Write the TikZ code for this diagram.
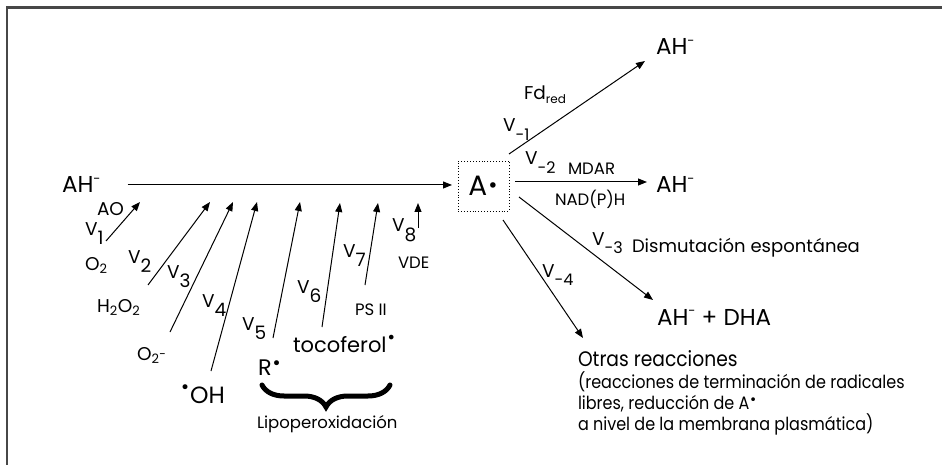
\documentclass[tikz,border=0pt]{standalone}
\usepackage{fontspec}
\setmainfont{Poppins}
\newfontfamily\narrowf[FakeStretch=0.89]{Poppins}
\newfontfamily\symf{DejaVu Sans}
\usetikzlibrary{arrows.meta,decorations.pathreplacing}
\newcommand\Vl[1]{V\raisebox{-0.5em}{#1}}
\newcommand\Vr[1]{V\raisebox{-0.45em}{\fontsize{16}{16}\selectfont #1}}
\newcommand\dotb{{\symf •}}
\newcommand\minus{\raisebox{0.42em}{\fontsize{13}{13}\selectfont -}}
\begin{document}
\begin{tikzpicture}[x=1pt,y=-1pt,
  every node/.style={inner sep=0pt, outer sep=0pt, anchor=base west},
  lab/.style={font=\fontsize{18.5}{22}\selectfont},
  mid/.style={font=\fontsize{16.5}{20}\selectfont},
  big/.style={font=\fontsize{23}{26}\selectfont},
  arr/.style={-{Triangle[length=9pt,width=7pt]}, line width=1pt},
  framel/.style={line width=2.2pt, draw=black!72},
  abox/.style={draw, dotted, line width=0.9pt, minimum width=51pt, minimum height=50pt, anchor=center, font=\fontsize{28}{30}\selectfont}
]
\useasboundingbox (0,0) rectangle (942,465);
\draw[framel] (7,465) -- (7,7.5) -- (942,7.5);

% main species
\node[big] (AHl) at (62,193) {AH\minus};
\node[abox] (box) at (483.5,186) {A\raisebox{0.12em}{\fontsize{19}{19}\selectfont\dotb}};
\draw[arr, shorten <=27pt, shorten >=6pt] (AHl.east) -- (AHl.east -| box.west);

% left inputs
\node[lab] (AO) at (97,215) {AO};
\node[lab] (V1) at (85,235) {\Vl{1}};
\node[lab] (O2) at (85,270) {O\textsubscript{2}};
\node[lab] (V2) at (128,263) {\Vl{2}};
\node[lab] (H2O2) at (97,312) {H\textsubscript{2}O\textsubscript{2}};
\node[lab] (V3) at (167,278) {\Vl{3}};
\node[lab] (O2m) at (137,360) {O\textsubscript{2}\raisebox{0.1em}{\fontsize{12}{12}\selectfont -}};
\node[lab] (V4) at (202,307) {\Vl{4}};
\node[font=\fontsize{23.5}{26}\selectfont] (OH) at (180,403) {\raisebox{0.42em}{\fontsize{17}{17}\selectfont\dotb}OH};
\node[font=\fontsize{22.5}{26}\selectfont] (R) at (258,375) {R\raisebox{0.25em}{\fontsize{17}{17}\selectfont\dotb}};
\node[lab] (V5) at (242,330) {\Vl{5}};
\node[lab] (V6) at (297,293) {\Vl{6}};
\node[font=\fontsize{21}{26}\selectfont] (toc) at (293,352) {tocoferol\raisebox{0.42em}{\fontsize{16}{16}\selectfont\dotb}};
\node[lab] (V7) at (343,257) {\Vl{7}};
\node[mid] (PS) at (355,315) {PS II};
\node[lab] (V8) at (392,232) {\Vl{8}};
\node[mid] (VDE) at (398,268) {VDE};

\coordinate (s1) at (106,241); \coordinate (t1) at (140,202);
\coordinate (s2) at (148,285); \coordinate (t2) at (210,202);
\coordinate (s3) at (170,332); \coordinate (t3) at (233,202);
\coordinate (s4) at (211,371); \coordinate (t4) at (257,202);
\coordinate (s5) at (273,338); \coordinate (t5) at (300,202);
\coordinate (s6) at (322,327); \coordinate (t6) at (340,203);
\coordinate (s7) at (365,285); \coordinate (t7) at (378,203);
\coordinate (s8) at (418,228); \coordinate (t8) at (418,203);
\foreach \i in {1,...,8} {\draw[arr] (s\i) -- (t\i);}

% brace
\coordinate (brL) at (262,385); \coordinate (brR) at (390,385);
\draw[line width=5pt, line cap=round, decorate, decoration={brace, mirror, amplitude=22pt, aspect=0.5}] (brL) -- (brR);
\node[font=\fontsize{16.5}{20}\selectfont] (lipo) at (257,428) {Lipoperoxidación};

% right outputs
\node[big] (AHt) at (656,55) {AH\minus};
\node[lab] (Fd) at (524,100) {Fd\raisebox{-0.2em}{\fontsize{12}{12}\selectfont red}};
\node[lab] (Vm1) at (503,132) {\Vr{-1}};
\node[big] (AHm) at (656,193) {AH\minus};
\node[lab] (Vm2) at (525,165) {\Vr{-2}};
\node[mid] (MDAR) at (568,175) {MDAR};
\node[mid] (NAD) at (555,205) {NAD(P)H};
\node[font=\fontsize{18}{21}\selectfont] (dism) at (632,252) {Dismutación espontánea};
\node[lab] (Vm3) at (592,245) {\Vr{-3}};
\node[lab] (Vm4) at (542,277) {\Vr{-4}};
\node[big] (AHD) at (657,325) {AH\minus{} + DHA};
\node[anchor=north west, align=left, font=\narrowf\fontsize{18}{21.3}\selectfont] (otras) at (578,351) {{\fontsize{21}{21.3}\selectfont Otras reacciones}\\(reacciones de terminación de radicales\\libres, reducción de A\raisebox{0.3em}{\fontsize{13}{13}\selectfont\dotb}\\a nivel de la membrana plasmática)};

\coordinate (r1s) at (509,154); \coordinate (r1t) at (645,61);
\coordinate (r2s) at (515,182); \coordinate (r2t) at (647,182);
\coordinate (r3s) at (519,197); \coordinate (r3t) at (653,300);
\coordinate (r4s) at (503,220); \coordinate (r4t) at (583,338);
\foreach \i in {1,...,4} {\draw[arr] (r\i s) -- (r\i t);}
\end{tikzpicture}
\end{document}
